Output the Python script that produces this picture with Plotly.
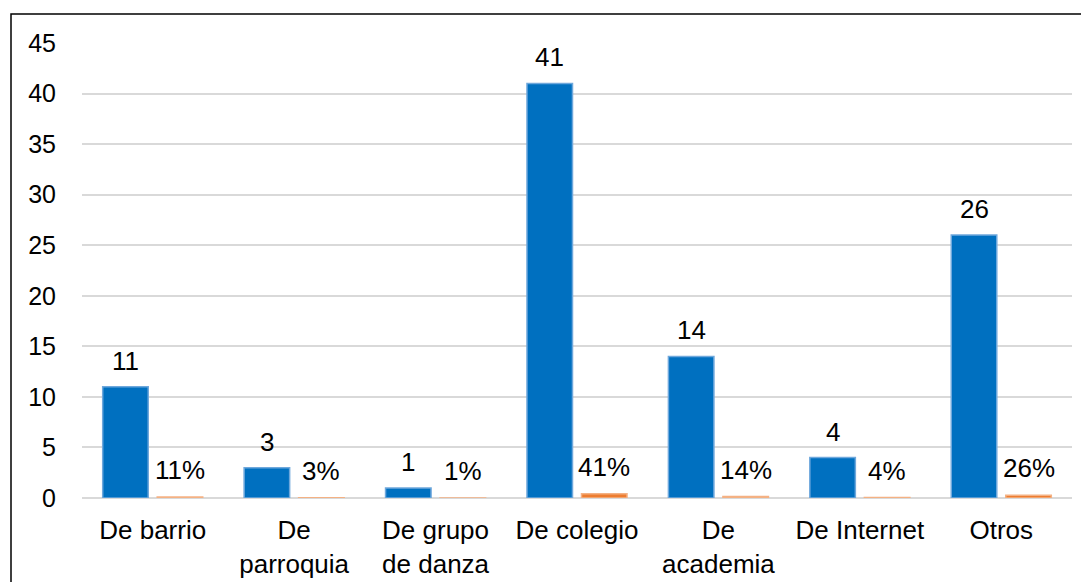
import plotly.graph_objects as go

categories = ["De barrio", "De<br>parroquia", "De grupo<br>de danza", "De colegio",
              "De<br>academia", "De Internet", "Otros"]
counts = [11, 3, 1, 41, 14, 4, 26]
percents = [0.11, 0.03, 0.01, 0.41, 0.14, 0.04, 0.26]
percent_labels = ["11%", "3%", "1%", "41%", "14%", "4%", "26%"]
y_ticks = [0, 5, 10, 15, 20, 25, 30, 35, 40, 45]

W, H = 1081, 574
ML, MR, MT, MB = 74, 17, 35, 84
BARGAP = 0.229
font = dict(family="Liberation Sans, Arial, sans-serif", size=25, color="black")
tick_font = dict(family="Liberation Sans, Arial, sans-serif", size=26, color="black")

fig = go.Figure()
fig.add_trace(go.Bar(
    x=categories, y=counts,
    marker=dict(color="#0070C0", line=dict(color="#6FA8DC", width=1.5)),
    name="Frecuencia",
))
fig.add_trace(go.Bar(
    x=categories, y=percents,
    marker=dict(color="#ED7D31", line=dict(color="#F4B183", width=1.5)),
    name="Porcentaje",
))

# data labels above each bar
plot_w = W - ML - MR
slot = (1 - BARGAP) * plot_w / len(categories) / 2
for cat, c, p, pl in zip(categories, counts, percents, percent_labels):
    fig.add_annotation(x=cat, y=c, text=str(c), showarrow=False, xref="x", yref="y",
                       yanchor="bottom", xshift=-slot / 2, yshift=9, font=tick_font)
    fig.add_annotation(x=cat, y=p, text=pl, showarrow=False, xref="x", yref="y",
                       yanchor="bottom", xshift=slot / 2, yshift=10, font=tick_font)

fig.update_layout(
    width=W, height=H,
    margin=dict(l=ML, r=MR, t=MT, b=MB, autoexpand=False),
    paper_bgcolor="white", plot_bgcolor="white",
    barmode="group", bargap=BARGAP, bargroupgap=0.165,
    showlegend=False,
    font=font,
)
fig.update_xaxes(showgrid=False, showline=False, ticks="", tickfont=tick_font,
                 ticklabelstandoff=14, automargin=False)
fig.update_yaxes(range=[0, 45], tickvals=y_ticks, showgrid=True, gridcolor="#D9D9D9",
                 gridwidth=1.5, zeroline=True, zerolinecolor="#D9D9D9", zerolinewidth=1.5,
                 showline=False, ticks="", tickfont=font, ticklabelstandoff=25, automargin=False)

fig.add_shape(type="rect", xref="paper", yref="paper",
              x0=(3 - ML) / plot_w, x1=1.1, y0=-0.3, y1=(H - MB - 6) / (H - MT - MB),
              line=dict(color="black", width=1.5), layer="below")

fig.write_html("out.html")
